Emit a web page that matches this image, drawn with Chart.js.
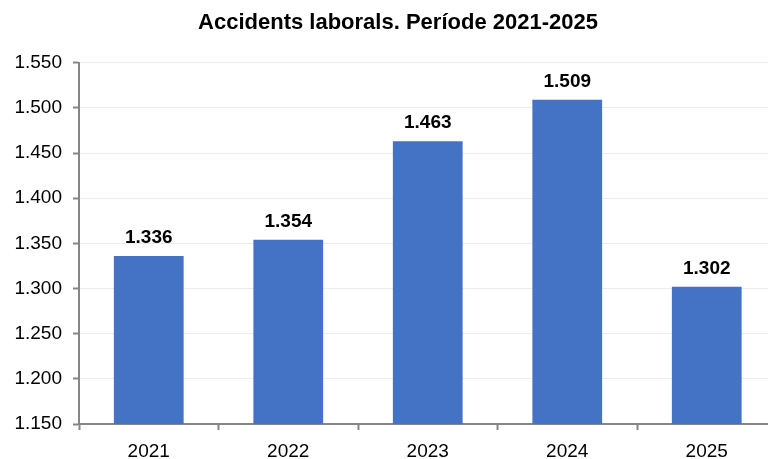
<!DOCTYPE html>
<html>
<head>
<meta charset="utf-8">
<script src="https://cdn.jsdelivr.net/npm/chart.js@4/dist/chart.umd.min.js"></script>
<style>
html,body{margin:0;padding:0;overflow:hidden;background:#fff;width:768px;height:459px;}
#wrap{width:796px;height:459px;}
</style>
</head>
<body>
<div id="wrap"><canvas id="c" width="796" height="459"></canvas></div>
<script>
const categories = ["2021", "2022", "2023", "2024", "2025"];
const accidents = [1336, 1354, 1463, 1509, 1302];
const yMin = 1150, yMax = 1550, yStep = 50;
const titleText = "Accidents laborals. Període 2021-2025";

function fmt(v){
  const s = String(Math.round(v));
  return s.replace(/\B(?=(\d{3})+(?!\d))/g, ".");
}
const FONT = '"Liberation Sans", Arial, sans-serif';

const labelPlugin = {
  id: 'barLabels',
  afterDatasetsDraw(chart){
    const ctx = chart.ctx;
    const meta = chart.getDatasetMeta(0);
    ctx.save();
    ctx.font = 'bold 19px ' + FONT;
    ctx.fillStyle = '#000';
    ctx.textAlign = 'center';
    ctx.textBaseline = 'alphabetic';
    meta.data.forEach((el, i) => {
      ctx.fillText(fmt(accidents[i]), el.x, el.y - 13);
    });
    ctx.restore();
  },
  afterDraw(chart){
    const ctx = chart.ctx;
    ctx.save();
    ctx.font = 'bold 22px ' + FONT;
    ctx.fillStyle = '#000';
    ctx.textAlign = 'center';
    ctx.textBaseline = 'middle';
    ctx.fillText(titleText, 398, 23);
    ctx.restore();
  }
};

new Chart(document.getElementById('c'), {
  type: 'bar',
  data: {
    labels: categories,
    datasets: [{
      data: accidents,
      backgroundColor: '#4472C4',
      borderWidth: 0,
      barPercentage: 0.5,
      categoryPercentage: 1.0
    }]
  },
  options: {
    responsive: false,
    animation: false,
    layout: { padding: { left: 0, right: 19.5, top: 62.7, bottom: 0 } },
    plugins: {
      legend: { display: false },
      tooltip: { enabled: false },
      title: { display: false }
    },
    scales: {
      y: {
        min: yMin, max: yMax,
        ticks: {
          stepSize: yStep,
          color: '#000',
          font: { family: FONT, size: 19 },
          padding: 11,
          callback: v => fmt(v)
        },
        grid: {
          color: '#ececec',
          lineWidth: 1,
          drawTicks: true,
          tickLength: 6,
          tickColor: '#868686',
          tickWidth: 2
        },
        border: { color: '#868686', width: 2 },
        afterFit(scale){ scale.width = 79; }
      },
      x: {
        offset: true,
        ticks: {
          color: '#000',
          font: { family: FONT, size: 19 },
          padding: 10
        },
        grid: {
          offset: true,
          drawOnChartArea: false,
          drawTicks: true,
          tickLength: 6,
          tickColor: '#868686',
          tickWidth: 2
        },
        border: { color: '#868686', width: 2 },
        afterFit(scale){ scale.height = 35; }
      }
    }
  },
  plugins: [labelPlugin]
});
</script>
</body>
</html>
